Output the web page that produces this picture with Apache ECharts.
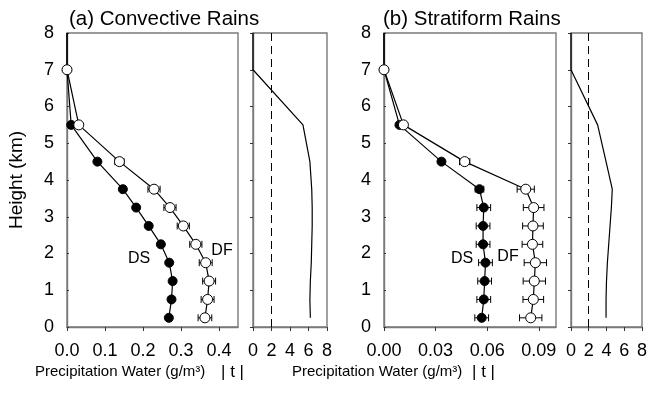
<!DOCTYPE html>
<html>
<head>
<meta charset="utf-8">
<script src="https://cdn.jsdelivr.net/npm/echarts@6/dist/echarts.min.js"></script>
<style>html,body{margin:0;padding:0;background:#fff}#c{width:650px;height:407px}</style>
</head>
<body>
<div id="c"></div>
<script>
// ---- data ----
const heights = [8, 7, 5.5, 4.5, 3.75, 3.25, 2.75, 2.25, 1.75, 1.25, 0.75, 0.25];
const dsConv = [0, 0, 0.011, 0.080, 0.147, 0.182, 0.215, 0.247, 0.269, 0.278, 0.275, 0.268];
const dfConv = [0, 0, 0.031, 0.138, 0.229, 0.271, 0.306, 0.339, 0.365, 0.374, 0.370, 0.363];
const dsConvErr = [0, 0, 0, 0.004, 0.005, 0.005, 0.005, 0.005, 0.005, 0.005, 0.005, 0.005];
const dfConvErr = [0, 0, 0, 0.012, 0.016, 0.016, 0.016, 0.016, 0.017, 0.017, 0.017, 0.018];
const tConv = [0, 0, 5.4, 6.15, 6.35, 6.4, 6.4, 6.35, 6.3, 6.2, 6.15, 6.2];

const dsStrat = [0, 0, 0.009, 0.0334, 0.0555, 0.058, 0.0576, 0.0576, 0.059, 0.0585, 0.058, 0.0568];
const dfStrat = [0, 0, 0.0113, 0.0469, 0.0824, 0.087, 0.0866, 0.0863, 0.088, 0.0874, 0.0868, 0.0853];
const dsStratErr = [0, 0, 0, 0.001, 0.0025, 0.004, 0.004, 0.004, 0.004, 0.004, 0.004, 0.004];
const dfStratErr = [0, 0, 0, 0.003, 0.005, 0.006, 0.006, 0.006, 0.0065, 0.0065, 0.006, 0.0065];
const tStrat = [0, 0, 3.0, 3.95, 4.65, 4.55, 4.4, 4.25, 4.1, 4.0, 3.95, 3.95];

const tCritical = 2;
const convTicks = [0, 0.1, 0.2, 0.3, 0.4];
const stratTicks = [0, 0.03, 0.06, 0.09];
const tTicks = [0, 2, 4, 6, 8];
const heightTicks = [0, 1, 2, 3, 4, 5, 6, 7, 8];

const titleA = '(a) Convective Rains';
const titleB = '(b) Stratiform Rains';
const xNameP = 'Precipitation Water (g/m³)';
const xNameT = '| t |';
const yName = 'Height (km)';

// ---- styles ----
const FONT = '"Liberation Sans", Arial, sans-serif';
const AX = '#7a7a7a';
const AXW = 1.4;

const chart = echarts.init(document.getElementById('c'), null, {renderer: 'canvas'});

function lineData(xs) {
  return heights.map((h, i) => i === 0 ? {value: [xs[i], h], symbol: 'none'} : [xs[i], h]);
}
function errData(xs, es) {
  const out = [];
  heights.forEach((h, i) => { if (es[i] > 0) out.push([xs[i], es[i], h]); });
  return out;
}
function errRender(params, api) {
  const x = api.value(0), e = api.value(1), y = api.value(2);
  const p1 = api.coord([x - e, y]), p2 = api.coord([x + e, y]);
  const h = 3.5;
  const st = {stroke: '#000', lineWidth: 1};
  return {type: 'group', children: [
    {type: 'line', shape: {x1: p1[0], y1: p1[1], x2: p2[0], y2: p2[1]}, style: st},
    {type: 'line', shape: {x1: p1[0], y1: p1[1] - h, x2: p1[0], y2: p1[1] + h}, style: st},
    {type: 'line', shape: {x1: p2[0], y1: p2[1] - h, x2: p2[0], y2: p2[1] + h}, style: st}
  ]};
}

const grids = [
  {left: 67, top: 33, width: 171, height: 294},
  {left: 253, top: 33, width: 74, height: 294},
  {left: 384, top: 33, width: 172, height: 294},
  {left: 571, top: 33, width: 72, height: 294}
].map(g => Object.assign(g, {show: true, borderColor: AX, borderWidth: AXW, backgroundColor: 'transparent', containLabel: false}));

function xAxisCfg(idx, max, ticks, fmt) {
  return {
    type: 'value', gridIndex: idx, min: 0, max: max,
    axisLine: {show: true, onZero: false, lineStyle: {color: AX, width: AXW}},
    axisTick: {show: true, inside: false, length: 4, lineStyle: {color: '#333', width: 1}, customValues: ticks},
    axisLabel: {show: true, margin: 15, fontSize: 18, color: '#000', fontFamily: FONT, customValues: ticks, formatter: fmt},
    splitLine: {show: false}
  };
}
function yAxisCfg(idx, showLabel) {
  return {
    type: 'value', gridIndex: idx, min: 0, max: 8, interval: 1,
    axisLine: {show: true, onZero: false, lineStyle: {color: AX, width: AXW}},
    axisTick: showLabel ? {show: true, inside: true, length: 2, lineStyle: {color: '#333', width: 1}}
                        : {show: true, inside: false, length: 3, lineStyle: {color: '#333', width: 1}},
    axisLabel: {show: showLabel, margin: 13, fontSize: 18, color: '#000', fontFamily: FONT,
                customValues: heightTicks},
    splitLine: {show: false}
  };
}

const lineStyle = {color: '#000', width: 1.2};
function profileSeries(idx, xs, filled) {
  return {
    type: 'line', xAxisIndex: idx, yAxisIndex: idx, data: lineData(xs),
    symbol: 'circle', symbolSize: filled ? 9 : 10,
    itemStyle: filled ? {color: '#000', borderColor: '#000', borderWidth: 1}
                      : {color: '#fff', borderColor: '#000', borderWidth: 1},
    lineStyle: lineStyle, silent: true, animation: false, z: filled ? 3 : 4
  };
}
function errSeries(idx, xs, es) {
  return {
    type: 'custom', xAxisIndex: idx, yAxisIndex: idx, data: errData(xs, es),
    encode: {x: 0, y: 2}, renderItem: errRender, silent: true, animation: false, z: 2
  };
}
function tSeries(idx, ts) {
  return {
    type: 'line', xAxisIndex: idx, yAxisIndex: idx,
    data: heights.map((h, i) => [ts[i], h]),
    symbol: 'none', lineStyle: lineStyle, silent: true, animation: false,
    markLine: {silent: true, symbol: 'none', animation: false, label: {show: false},
      lineStyle: {color: '#000', width: 1, type: [8, 5]},
      data: [{xAxis: tCritical}]}
  };
}

const option = {
  animation: false,
  backgroundColor: '#fff',
  textStyle: {fontFamily: FONT},
  grid: grids,
  xAxis: [
    xAxisCfg(0, 0.45, convTicks, v => v.toFixed(1)),
    xAxisCfg(1, 8, tTicks, v => String(v)),
    xAxisCfg(2, 0.1, stratTicks, v => v.toFixed(2)),
    xAxisCfg(3, 8, tTicks, v => String(v))
  ],
  yAxis: [yAxisCfg(0, true), yAxisCfg(1, false), yAxisCfg(2, true), yAxisCfg(3, false)],
  series: [
    errSeries(0, dsConv, dsConvErr),
    errSeries(0, dfConv, dfConvErr),
    profileSeries(0, dsConv, true),
    profileSeries(0, dfConv, false),
    tSeries(1, tConv),
    errSeries(2, dsStrat, dsStratErr),
    errSeries(2, dfStrat, dfStratErr),
    profileSeries(2, dsStrat, true),
    profileSeries(2, dfStrat, false),
    tSeries(3, tStrat)
  ],
  graphic: [
    {type: 'text', x: 69, y: 19.5, style: {text: titleA, font: '20.5px ' + FONT, fill: '#000', verticalAlign: 'middle'}},
    {type: 'text', x: 383, y: 19.5, style: {text: titleB, font: '20.5px ' + FONT, fill: '#000', verticalAlign: 'middle'}},
    {type: 'text', x: 17, y: 180, rotation: Math.PI / 2, style: {text: yName, font: '19px ' + FONT, fill: '#000', align: 'center', verticalAlign: 'middle'}},
    {type: 'text', x: 35, y: 372, style: {text: xNameP, font: '15px ' + FONT, fill: '#000', verticalAlign: 'middle'}},
    {type: 'text', x: 221, y: 372, style: {text: xNameT, font: '17px ' + FONT, fill: '#000', verticalAlign: 'middle'}},
    {type: 'text', x: 292, y: 372, style: {text: xNameP, font: '15px ' + FONT, fill: '#000', verticalAlign: 'middle'}},
    {type: 'text', x: 472, y: 372, style: {text: xNameT, font: '17px ' + FONT, fill: '#000', verticalAlign: 'middle'}},
    {type: 'text', x: 139, y: 259, style: {text: 'DS', font: '16px ' + FONT, fill: '#000', align: 'center', verticalAlign: 'middle'}},
    {type: 'text', x: 222, y: 251, style: {text: 'DF', font: '16px ' + FONT, fill: '#000', align: 'center', verticalAlign: 'middle'}},
    {type: 'text', x: 462, y: 259, style: {text: 'DS', font: '16px ' + FONT, fill: '#000', align: 'center', verticalAlign: 'middle'}},
    {type: 'text', x: 508, y: 257, style: {text: 'DF', font: '16px ' + FONT, fill: '#000', align: 'center', verticalAlign: 'middle'}}
  ]
};
chart.setOption(option);
</script>
</body>
</html>
